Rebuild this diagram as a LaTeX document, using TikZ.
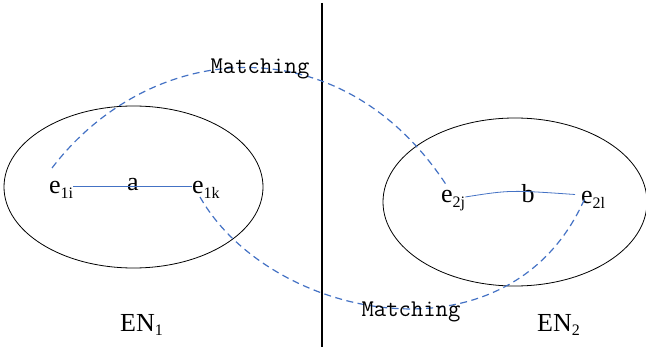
\documentclass[tikz,border=0pt]{standalone}
\usepackage{fontspec}
\setmainfont{Liberation Serif}
\newcommand{\lsub}[1]{\raisebox{-0.4ex}{\fontsize{16}{16}\selectfont #1}}
\begin{document}
\begin{tikzpicture}[x=1pt,y=-1pt,
  lbl/.style={inner sep=0pt,font=\fontsize{26}{26}\selectfont},
  mlbl/.style={inner sep=0pt,font=\ttfamily\fontsize{24}{24}\selectfont},
  grp/.style={draw=black,line width=0.8pt}]
\useasboundingbox (0,0) rectangle (646,350);
\definecolor{lk}{RGB}{68,114,196}
\tikzset{link/.style={draw=lk,line width=0.8pt},
  match/.style={draw=lk,line width=1.2pt,dash pattern=on 7pt off 4.5pt}}
% divider
\draw[line width=2.2pt] (322,3) -- (322,347);
% ellipses
\draw[grp] (133.5,187) ellipse [x radius=129.5, y radius=81];
\draw[grp] (515,202) ellipse [x radius=132, y radius=84];
% nodes
\node[lbl,anchor=base west] (e1i) at (49,194) {e\lsub{1i}};
\node[lbl] (a) at (133,185) {a};
\node[lbl,anchor=base west] (e1k) at (192,194) {e\lsub{1k}};
\node[lbl,anchor=base west] (e2j) at (441,203) {e\lsub{2j}};
\node[lbl] (b) at (528,194) {b};
\node[lbl,anchor=base west] (e2l) at (581,204) {e\lsub{2l}};
% links
\draw[link] (e1i.east|-a) ++(0,1) coordinate (l1) -- (e1k.west|-l1);
\draw[link] (e2j.east) ++(0,-4) coordinate (l2) .. controls (510,190) .. (575,194.5) coordinate (l3);
% matching curves
\coordinate (s1) at (52,168);
\coordinate (t1) at (447,186);
\coordinate (s2) at (200,197);
\coordinate (t2) at (585,198);
\draw[match] (s1) .. controls (150,40) and (340,22) .. (t1);
\draw[match] (s2) .. controls (270,320) and (510,370) .. (t2);
\node[mlbl] (m1) at (260,69) {Matching};
\node[mlbl] (m2) at (411,312) {Matching};
% group labels
\node[lbl,anchor=base west] (en1) at (120,331) {EN\lsub{1}};
\node[lbl,anchor=base west] (en2) at (537,331) {EN\lsub{2}};
\end{tikzpicture}
\end{document}
